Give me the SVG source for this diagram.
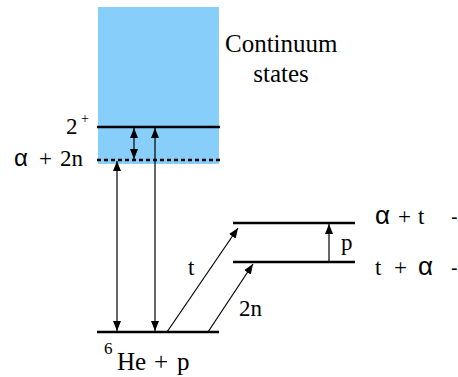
<svg xmlns="http://www.w3.org/2000/svg" width="458" height="377" viewBox="0 0 458 377">
<style>
.lvl{stroke:#000;stroke-width:2.5;fill:none}
.arr{stroke:#000;stroke-width:1.2;fill:none}
.t{font-family:'Liberation Serif','Times New Roman','DejaVu Serif',serif;fill:#000}
.s{font-family:'Liberation Sans',Arial,sans-serif}
</style>
<defs>
<marker id="ah" viewBox="0 0 10 8" refX="10" refY="4" markerWidth="10" markerHeight="8" markerUnits="userSpaceOnUse" orient="auto-start-reverse">
<path d="M0,0 L10,4 L0,8 Z" fill="#000"/>
</marker>
</defs>
<rect id="continuum" x="98" y="7" width="121" height="157" fill="#87cefa"/>
<g id="level-2plus">
<line class="lvl" x1="97" y1="127" x2="220" y2="127"/>
<text class="t" x="66" y="134" font-size="23">2</text>
<text class="t" x="81" y="123" font-size="14">+</text>
</g>
<g id="level-a2n">
<line x1="97" y1="160" x2="220" y2="160" stroke="#000" stroke-width="2.5" stroke-dasharray="4,3"/>
<text class="t" y="166" font-size="23"><tspan class="s" x="14" font-size="24">α</tspan><tspan x="39">+</tspan><tspan x="60">2n</tspan></text>
</g>
<g id="level-6He">
<line class="lvl" x1="97" y1="332" x2="219" y2="332"/>
<text class="t" x="104" y="354" font-size="17">6</text>
<text class="t" y="370" font-size="25"><tspan x="117">He</tspan><tspan x="154">+</tspan><tspan x="177">p</tspan></text>
</g>
<g id="level-at">
<line class="lvl" x1="233" y1="223" x2="355" y2="223"/>
<text class="t" y="224" font-size="23"><tspan class="s" x="375" font-size="26">α</tspan><tspan x="398">+</tspan><tspan x="418">t</tspan></text>
<text class="s" x="451" y="224" font-size="20">-</text>
</g>
<g id="level-ta">
<line class="lvl" x1="233" y1="262" x2="355" y2="262"/>
<text class="t" y="275" font-size="23"><tspan x="375">t</tspan><tspan x="394">+</tspan><tspan class="s" x="418" font-size="26">α</tspan></text>
<text class="s" x="451" y="275" font-size="20">-</text>
</g>
<g id="continuum-label">
<text class="t" x="225" y="52" font-size="25">Continuum</text>
<text class="t" x="281" y="82" font-size="25" text-anchor="middle">states</text>
</g>
<g id="connectors">
<line class="arr" x1="117" y1="331" x2="117" y2="161" marker-start="url(#ah)" marker-end="url(#ah)"/>
<line class="arr" x1="155" y1="331" x2="155" y2="128" marker-start="url(#ah)" marker-end="url(#ah)"/>
<line class="arr" x1="134" y1="159" x2="134" y2="128" marker-start="url(#ah)" marker-end="url(#ah)"/>
<line class="arr" x1="167" y1="332" x2="238" y2="228" marker-end="url(#ah)"/>
<line class="arr" x1="208" y1="332" x2="253" y2="264" marker-end="url(#ah)"/>
<line class="arr" x1="329" y1="262" x2="329" y2="224" marker-end="url(#ah)"/>
<text class="t" x="188" y="275" font-size="23">t</text>
<text class="t" x="239" y="316" font-size="23">2n</text>
<text class="t" x="341" y="250" font-size="23">p</text>
</g>
</svg>
